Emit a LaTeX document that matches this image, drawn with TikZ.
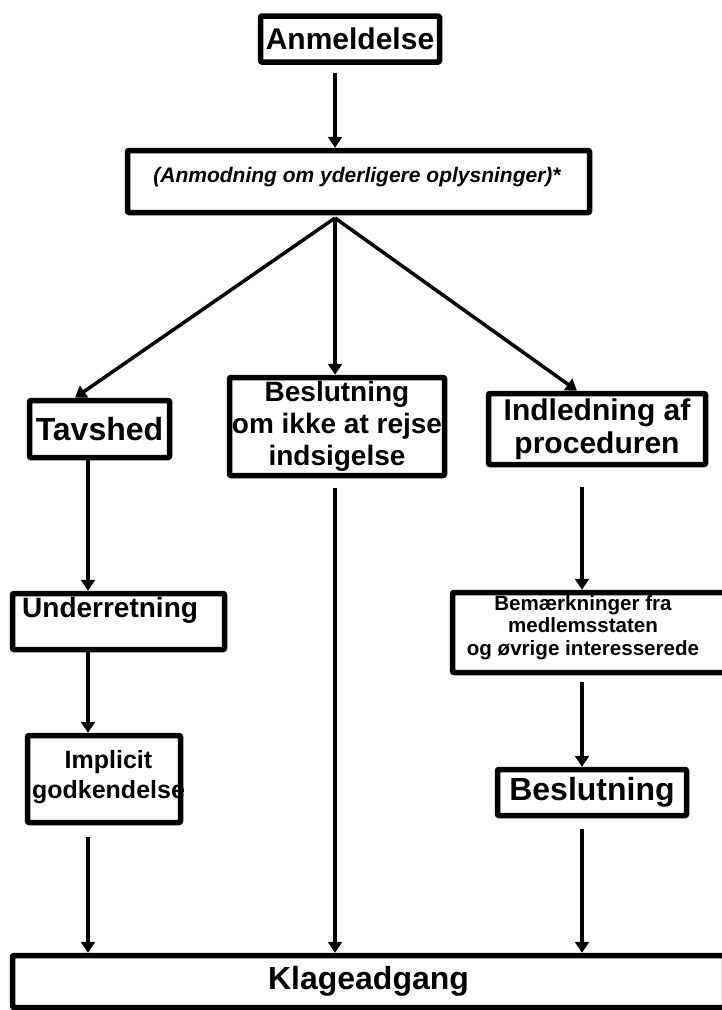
\documentclass[tikz,border=0pt]{standalone}
\usepackage{fontspec}
\setmainfont{Liberation Sans}
\usetikzlibrary{arrows.meta,calc}
\usetikzlibrary{positioning}

\tikzset{
  box/.style={draw, line width=5.5pt, rounded corners=1pt, inner sep=0pt, align=center},
  arr/.style={line width=3.5pt, -{Triangle[length=11pt,width=14pt]}},
  fs/.style={font=\fontsize{#1}{36}\selectfont\bfseries}
}

\begin{document}
\begin{tikzpicture}[x=1pt, y=-1pt, line join=round]
  \useasboundingbox (0,0) rectangle (722,1010);

  % Columns
  \coordinate (colL) at (88,0);
  \coordinate (colM) at (335,0);
  \coordinate (colR) at (582,0);

  % Boxes
  \node[box, fs=30, minimum width=179, minimum height=46] (anm) at (350,39) {Anmeldelse};
  \node[box, minimum width=462, minimum height=62] (anmod) at (358.5,181.5) {};
  \node[font=\fontsize{21}{24}\selectfont\bfseries\itshape, inner sep=0pt]
        (anmodtxt) at (357,177) {(Anmodning om yderligere oplysninger)*};

  \node[box, fs=32, minimum width=140, minimum height=57] (tav) at (99.5,429) {Tavshed};
  \node[box, font=\fontsize{28}{32}\selectfont\bfseries, minimum width=215, minimum height=98]
        (beslikke) at (337,426.5) {Beslutning\\om ikke at rejse\\indsigelse};
  \node[box, font=\fontsize{30}{33}\selectfont\bfseries, minimum width=217, minimum height=71]
        (indl) at (597,429) {Indledning af\\proceduren};

  \node[box, minimum width=212, minimum height=56] (under) at (118.5,621.5) {};
  \node[fs=28, anchor=west, inner sep=0pt] (undertxt) at (22,610) {Underretning};

  \node[box, minimum width=290, minimum height=80] (bem) at (597.5,632.5) {};
  \node[font=\fontsize{20.6}{22.5}\selectfont\bfseries, align=center, inner sep=0pt]
        (bemtxt) at (583,627.5) {Bemærkninger fra\\medlemsstaten\\og øvrige interesserede};

  \node[box, minimum width=153, minimum height=87] (impl) at (104,779) {};
  \node[font=\fontsize{25}{30}\selectfont\bfseries, align=center, inner sep=0pt]
        (impltxt) at (108.5,777) {Implicit\\godkendelse};

  \node[box, fs=32, minimum width=189, minimum height=46] (besl) at (592,792.5) {Beslutning};

  \node[box, fs=32, minimum width=712, minimum height=52] (klage) at (368.5,981.5) {Klageadgang};

  % Arrows
  \coordinate (apex) at (335,218);
  \coordinate (tavin) at (75,0);
  \coordinate (indlin) at (577,0);

  \draw[arr] ($(anm.south -| colM)+(0,8)$) -- (anmod.north -| colM);
  \draw[arr] (apex) -- (tav.north -| tavin);
  \draw[arr] (apex) -- (beslikke.north -| colM);
  \draw[arr] (apex) -- (indl.north -| indlin);

  \draw[arr] (tav.south -| colL) -- (under.north -| colL);
  \draw[arr] (under.south -| colL) -- (impl.north -| colL);
  \draw[arr] ($(impl.south -| colL)+(0,12)$) -- (klage.north -| colL);

  \draw[arr] ($(beslikke.south -| colM)+(0,10)$) -- (klage.north -| colM);

  \draw[arr] ($(indl.south -| colR)+(0,20)$) -- (bem.north -| colR);
  \draw[arr] ($(bem.south -| colR)+(0,7)$) -- (besl.north -| colR);
  \draw[arr] ($(besl.south -| colR)+(0,11)$) -- (klage.north -| colR);
\end{tikzpicture}
\end{document}
